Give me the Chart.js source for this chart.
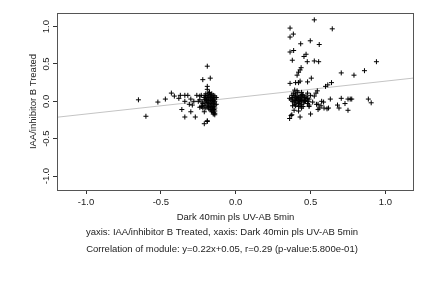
<!DOCTYPE html>
<html>
<head>
<meta charset="utf-8">
<script src="https://cdn.jsdelivr.net/npm/chart.js@4"></script>
<style>
html,body{margin:0;padding:0;background:#fff;}
</style>
</head>
<body>
<canvas id="myChart" width="432" height="288"></canvas>
<script>
// punkty (x = Dark 40min pls UV-AB 5min, y = IAA/inhibitor B Treated)
const pointsX = [
  -0.65,-0.60,-0.52,-0.47,-0.43,-0.41,-0.38,-0.37,-0.36,-0.34,-0.34,-0.34,-0.32,-0.31,-0.30,-0.30,-0.29,-0.28,-0.27,-0.26,
  -0.25,-0.24,-0.24,-0.24,-0.23,-0.22,-0.22,-0.22,-0.21,-0.20,-0.19,-0.19,-0.19,-0.19,-0.17,-0.225,-0.21,-0.15,-0.19,
  -0.20,-0.19,-0.18,-0.17,-0.16,-0.15,-0.14,-0.20,-0.18,-0.17,-0.16,-0.15,-0.14,-0.21,-0.19,-0.18,-0.17,-0.16,-0.15,-0.14,
  -0.20,-0.19,-0.18,-0.17,-0.16,-0.15,-0.14,-0.21,-0.19,-0.18,-0.17,-0.16,-0.15,-0.14,-0.20,-0.18,-0.17,-0.16,-0.15,-0.14,
  -0.15,-0.14,-0.16,-0.23,-0.22,-0.21,-0.175,-0.165,-0.155,-0.145,-0.155,-0.145,-0.185,-0.195,-0.205,-0.13,-0.13,-0.14,
  0.525,0.363,0.385,0.363,0.645,0.434,0.498,0.558,0.363,0.387,0.378,0.456,0.47,0.478,0.525,0.554,0.94,0.43,0.437,0.42,
  0.41,0.505,0.705,0.79,0.86,0.363,0.40,0.42,0.43,0.48,0.60,0.615,0.64,0.394,0.545,0.536,0.525,0.50,0.49,0.485,
  0.514,0.55,0.574,0.587,0.632,0.705,0.75,0.765,0.775,0.886,0.905,0.558,0.62,0.68,0.69,0.73,0.75,0.50,0.37,0.36,
  0.39,0.42,0.44,0.49,0.49,0.38,0.42,0.54,0.57,0.59,0.61,0.55,0.375,0.43,
  0.37,0.38,0.38,0.39,0.39,0.39,0.40,0.40,0.40,0.41,0.41,0.41,0.42,0.42,0.42,0.43,0.43,0.43,0.44,0.44,
  0.44,0.45,0.45,0.46,0.46,0.47,0.47,0.375,0.385,0.395,0.405,0.415,0.425,0.435,0.445,0.455,0.465,0.48,0.48,0.36,
  0.40,0.43,0.45,0.41,0.44,0.48
];
const pointsY = [
  0.02,-0.20,-0.01,0.03,0.11,0.07,0.04,0.08,-0.11,0.00,0.08,-0.21,0.08,-0.04,0.03,-0.14,-0.05,0.00,-0.21,0.08,
  0.00,0.07,-0.08,0.02,0.08,0.29,-0.06,-0.09,-0.30,0.03,0.47,0.20,0.16,-0.27,0.31,-0.01,-0.14,-0.17,-0.26,
  0.10,0.08,0.11,0.09,0.10,0.08,0.07,0.06,0.05,0.06,0.04,0.05,0.03,0.02,0.03,0.01,0.02,0.00,0.01,0.00,
  -0.02,-0.01,-0.03,-0.02,-0.04,-0.03,-0.05,-0.06,-0.05,-0.07,-0.06,-0.08,-0.07,-0.09,-0.09,-0.10,-0.11,-0.12,-0.11,-0.13,
  -0.15,-0.16,-0.14,-0.07,-0.03,0.05,0.12,0.07,0.02,-0.02,-0.09,-0.11,-0.08,0.01,0.08,-0.04,0.05,-0.18,
  1.09,0.98,0.90,0.86,0.97,0.77,0.81,0.76,0.66,0.68,0.55,0.60,0.63,0.53,0.54,0.53,0.53,0.42,0.45,0.39,
  0.35,0.31,0.38,0.35,0.41,0.24,0.25,0.25,0.27,0.26,0.20,0.22,0.25,0.15,0.14,0.11,0.07,0.08,0.03,0.00,
  -0.01,-0.04,0.00,-0.01,0.03,0.04,0.03,0.03,0.03,0.03,-0.02,-0.09,-0.09,-0.05,-0.09,-0.03,-0.12,-0.17,-0.19,-0.23,
  -0.12,-0.13,-0.09,-0.07,-0.05,-0.06,-0.07,-0.04,-0.06,-0.09,-0.10,-0.11,-0.18,-0.21,
  0.02,0.05,0.00,0.08,0.03,-0.02,0.06,0.01,0.10,0.04,-0.01,0.07,0.02,0.05,-0.03,0.08,0.00,0.04,0.06,0.01,
  -0.04,0.03,0.08,0.05,0.00,0.03,0.07,0.08,0.11,-0.04,0.03,0.12,-0.01,0.02,0.09,-0.02,0.01,-0.03,0.04,0.04,
  -0.06,-0.06,-0.07,0.14,0.12,0.11
];

// linia regresji y=0.22x+0.05 (końce na brzegach osi)
const fitX = [-1.194, 1.191];
const fitY = [-0.213, 0.312];

const xTicks = [-1.0, -0.5, 0.0, 0.5, 1.0];
const yTicks = [-1.0, -0.5, 0.0, 0.5, 1.0];

const xTitle = 'Dark 40min pls UV-AB 5min';
const yTitle = 'IAA/inhibitor B Treated';
const caption1 = 'yaxis: IAA/inhibitor B Treated, xaxis: Dark 40min pls UV-AB 5min';
const caption2 = 'Correlation of module: y=0.22x+0.05, r=0.29 (p-value:5.800e-01)';

const FONT = "'Liberation Sans', Arial, sans-serif";
const TXT = '#222';
const f9 = {family: FONT, size: 9.5, lineHeight: 1.2};

// ramka wokół wykresu
const box = {
  id: 'box',
  afterDraw(chart) {
    const a = chart.chartArea, c = chart.ctx;
    c.save();
    c.strokeStyle = '#555';
    c.lineWidth = 1;
    c.strokeRect(Math.round(a.left) + 0.5, Math.round(a.top) + 0.5, Math.round(a.right - a.left) - 1, Math.round(a.bottom - a.top));
    c.restore();
  }
};

new Chart(document.getElementById('myChart').getContext('2d'), {
  type: 'scatter',
  data: {
    datasets: [
      {
        type: 'line',
        data: fitX.map((x, i) => ({x: x, y: fitY[i]})),
        borderColor: '#c4c4c4', borderWidth: 1, pointRadius: 0, order: 2
      },
      {
        data: pointsX.map((x, i) => ({x: x, y: pointsY[i]})),
        pointStyle: 'cross', pointRadius: 2.5, borderColor: '#000', borderWidth: 1, order: 1
      }
    ]
  },
  options: {
    responsive: false,
    animation: false,
    layout: {padding: {left: 30, right: 18, top: 13, bottom: 0}},
    plugins: {
      legend: {display: false},
      tooltip: {enabled: false},
      subtitle: {display: true, position: 'bottom', text: caption1, color: TXT, font: f9, padding: {top: 0, bottom: 5.6}},
      title: {display: true, position: 'bottom', text: caption2, color: TXT, font: Object.assign({}, f9, {weight: 'normal'}), padding: {top: 0, bottom: 33.3}}
    },
    scales: {
      x: {
        type: 'linear', min: -1.194, max: 1.191,
        afterBuildTicks: s => { s.ticks = xTicks.map(v => ({value: v})); },
        afterFit: s => { s.height = 36.3; },
        ticks: {callback: v => v.toFixed(1), color: TXT, font: f9, padding: 3, maxRotation: 0},
        grid: {drawOnChartArea: false, tickLength: 4, color: '#333'},
        border: {display: false},
        title: {display: true, text: xTitle, color: TXT, font: f9, padding: {top: 0, bottom: 3.6}}
      },
      y: {
        type: 'linear', min: -1.187, max: 1.182,
        afterBuildTicks: s => { s.ticks = yTicks.map(v => ({value: v})); },
        afterFit: s => { s.width = 27; },
        ticks: {callback: v => v.toFixed(1), color: TXT, font: f9, padding: -2, minRotation: 90, maxRotation: 90, crossAlign: 'center'},
        grid: {drawOnChartArea: false, tickLength: 4, color: '#333'},
        border: {display: false},
        title: {display: true, text: yTitle, color: TXT, font: f9, padding: {top: -2.4, bottom: 0}}
      }
    }
  },
  plugins: [box]
});
</script>
</body>
</html>
